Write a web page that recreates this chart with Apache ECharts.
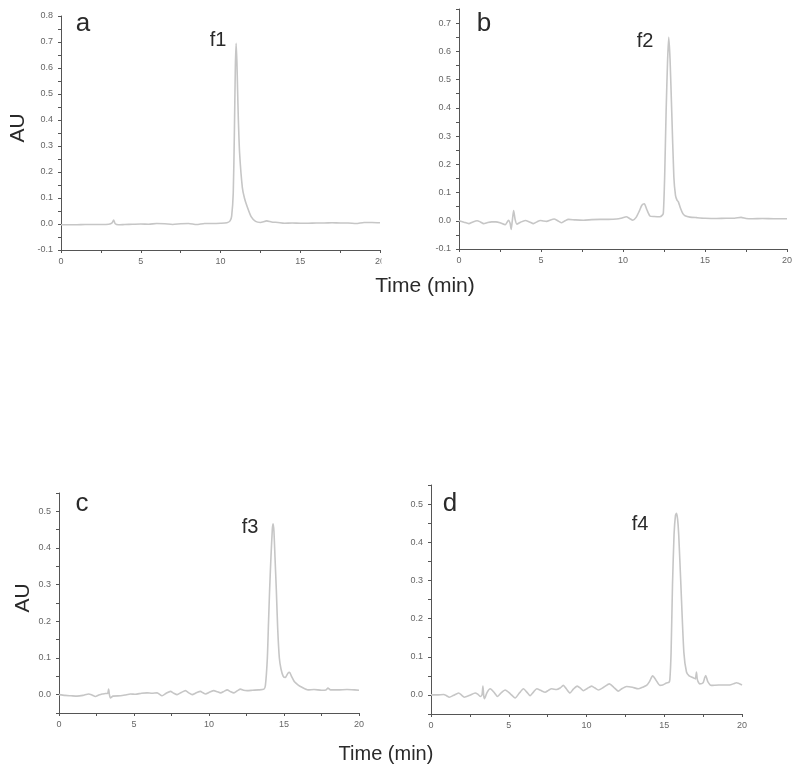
<!DOCTYPE html>
<html>
<head>
<meta charset="utf-8">
<script src="https://cdn.jsdelivr.net/npm/echarts@6/dist/echarts.min.js"></script>
<style>html,body{margin:0;padding:0;background:#fff}#c{width:800px;height:778px}</style>
</head>
<body>
<div id="c"></div>
<script>
// ---- data (time in min, absorbance AU) ----
const panelLetters = ['a', 'b', 'c', 'd'];
const peakNames = ['f1', 'f2', 'f3', 'f4'];
const xTitle = 'Time (min)';
const yTitle = 'AU';
const xMin = 0, xMax = 20;
const yMins = [-0.1, -0.1, -0.05, -0.05];
const yMaxs = [0.8, 0.75, 0.55, 0.55];

const traceA = [[0,-0.003],[0.5,-0.003],[1,-0.003],[1.5,-0.002],[2,-0.002],[2.5,-0.002],[3,-0.001],[3.2,0.004],[3.3,0.015],[3.4,0.001],[3.6,-0.003],[4,-0.002],[4.5,-0.001],[5,0],[5.5,-0.001],[6,0.002],[6.5,0.001],[7,-0.002],[7.5,0.001],[8,0.002],[8.5,-0.002],[9,0.002],[9.5,0.002],[10,0.003],[10.4,0.005],[10.6,0.012],[10.7,0.03],[10.8,0.12],[10.87,0.35],[10.93,0.6],[10.98,0.695],[11.03,0.62],[11.07,0.52],[11.12,0.4],[11.2,0.27],[11.37,0.14],[11.5,0.1],[11.67,0.067],[11.92,0.028],[12.2,0.01],[12.5,0.006],[12.9,0.012],[13.2,0.008],[13.6,0.006],[14,0.003],[14.5,0.004],[15,0.003],[15.5,0.003],[16,0.004],[16.5,0.004],[17,0.005],[17.5,0.004],[18,0.004],[18.5,0.002],[19,0.006],[19.5,0.006],[20,0.005]];

const traceB = [[0,0],[0.3,-0.005],[0.6,-0.01],[0.85,-0.004],[1.1,0],[1.3,-0.004],[1.5,-0.01],[1.75,-0.006],[2.0,-0.004],[2.25,-0.004],[2.5,-0.007],[2.82,-0.014],[3.02,0.002],[3.12,-0.01],[3.18,-0.031],[3.25,0.0],[3.33,0.036],[3.42,0.005],[3.53,-0.012],[3.75,-0.005],[4.04,0.001],[4.3,-0.004],[4.54,-0.01],[4.75,-0.004],[4.95,0.001],[5.15,-0.001],[5.35,-0.002],[5.58,0.003],[5.8,0.006],[6.02,0.0],[6.27,-0.007],[6.47,0.0],[6.67,0.005],[7.1,0.003],[7.59,0.002],[8.1,0.004],[8.6,0.005],[9.1,0.005],[9.6,0.006],[9.95,0.01],[10.2,0.014],[10.4,0.008],[10.6,0.002],[10.8,0.012],[11.0,0.035],[11.15,0.055],[11.3,0.06],[11.45,0.04],[11.64,0.017],[11.9,0.015],[12.25,0.014],[12.4,0.02],[12.46,0.027],[12.54,0.156],[12.63,0.39],[12.72,0.57],[12.79,0.65],[12.87,0.57],[12.97,0.39],[13.1,0.156],[13.2,0.09],[13.3,0.072],[13.37,0.068],[13.5,0.045],[13.65,0.025],[13.78,0.018],[14.08,0.013],[14.5,0.011],[15.0,0.009],[15.7,0.008],[16.3,0.009],[16.8,0.009],[17.2,0.012],[17.5,0.008],[17.9,0.007],[18.5,0.008],[19.2,0.007],[20,0.007]];

const traceC = [[0,0],[0.4,-0.002],[0.8,-0.003],[1.2,-0.004],[1.6,-0.002],[1.98,0.002],[2.2,-0.001],[2.43,-0.005],[2.65,-0.001],[2.87,0.002],[3.1,0.003],[3.25,0.004],[3.31,0.015],[3.36,0.0],[3.43,-0.009],[3.6,-0.004],[4.1,-0.003],[4.4,-0.001],[4.76,0.002],[5.1,0.001],[5.5,0.004],[5.87,0.005],[6.2,0.004],[6.54,0.005],[6.87,-0.003],[7.15,0.004],[7.43,0.009],[7.65,0.004],[7.87,0.0],[8.15,0.006],[8.43,0.011],[8.65,0.005],[8.88,0.0],[9.15,0.005],[9.43,0.009],[9.6,0.005],[9.77,0.002],[10.05,0.007],[10.32,0.011],[10.55,0.008],[10.77,0.005],[11.0,0.009],[11.21,0.013],[11.45,0.008],[11.66,0.005],[11.9,0.011],[12.1,0.015],[12.3,0.012],[12.55,0.011],[12.9,0.012],[13.3,0.013],[13.66,0.015],[13.76,0.025],[13.89,0.10],[13.97,0.2],[14.04,0.284],[14.13,0.375],[14.22,0.45],[14.27,0.466],[14.33,0.445],[14.4,0.375],[14.49,0.284],[14.58,0.18],[14.69,0.10],[14.8,0.07],[14.95,0.05],[15.09,0.047],[15.25,0.058],[15.37,0.061],[15.5,0.05],[15.7,0.035],[15.95,0.026],[16.2,0.02],[16.6,0.013],[17.0,0.014],[17.5,0.012],[17.8,0.013],[17.93,0.018],[18.1,0.013],[18.6,0.013],[19.2,0.014],[19.7,0.013],[20,0.012]];

const traceD = [[0,0],[0.4,0.0],[0.81,0.001],[1.0,-0.002],[1.18,-0.006],[1.45,-0.001],[1.78,0.005],[1.95,0.0],[2.14,-0.006],[2.5,-0.001],[2.84,0.005],[3.0,0.002],[3.17,-0.004],[3.28,0.0],[3.34,0.023],[3.39,-0.002],[3.44,-0.01],[3.6,0.006],[3.81,0.016],[4.05,0.007],[4.28,-0.004],[4.5,0.005],[4.77,0.013],[5.1,0.003],[5.41,-0.008],[5.7,0.006],[5.95,0.016],[6.15,0.008],[6.37,-0.002],[6.6,0.008],[6.8,0.016],[7.05,0.012],[7.34,0.007],[7.55,0.012],[7.76,0.016],[8.08,0.014],[8.3,0.018],[8.51,0.025],[8.7,0.016],[8.94,0.005],[9.15,0.015],[9.4,0.023],[9.6,0.018],[9.8,0.011],[10.05,0.017],[10.33,0.023],[10.55,0.018],[10.76,0.013],[11.1,0.02],[11.47,0.029],[11.75,0.02],[12.04,0.01],[12.3,0.017],[12.58,0.022],[12.95,0.02],[13.33,0.016],[13.6,0.02],[13.86,0.025],[14.05,0.035],[14.25,0.05],[14.45,0.04],[14.72,0.025],[14.9,0.026],[15.14,0.031],[15.3,0.033],[15.36,0.04],[15.44,0.112],[15.53,0.288],[15.63,0.42],[15.72,0.47],[15.79,0.476],[15.86,0.46],[15.93,0.42],[16.07,0.288],[16.26,0.112],[16.43,0.06],[16.6,0.05],[16.86,0.045],[17.0,0.042],[17.07,0.06],[17.13,0.04],[17.28,0.029],[17.5,0.032],[17.6,0.045],[17.67,0.051],[17.8,0.035],[18.03,0.025],[18.5,0.026],[19.2,0.026],[19.5,0.03],[19.64,0.032],[20,0.026]];

const traces = [traceA, traceB, traceC, traceD];

// ---- layout ----
const grids = [
  {left: 61, top: 16, width: 319, height: 234},
  {left: 459, top: 9, width: 328, height: 240},
  {left: 59, top: 493, width: 300, height: 220},
  {left: 431, top: 485, width: 311, height: 229}
];
const FONT = '"Liberation Sans", Arial, Helvetica, sans-serif';
const isTenth = v => Math.abs(v * 10 - Math.round(v * 10)) < 1e-6;

const xAxes = grids.map((g, i) => ({
  type: 'value', gridIndex: i, min: xMin, max: xMax, interval: 2.5,
  axisLine: {show: true, onZero: false, lineStyle: {color: '#555', width: 1}},
  axisTick: {show: true, inside: false, length: 3, lineStyle: {color: '#555'}},
  axisLabel: {show: true, margin: 7, fontSize: 9, color: '#666', fontFamily: FONT,
    formatter: v => (Math.abs(v % 5) < 1e-6 ? String(Math.round(v)) : '')},
  splitLine: {show: false}
}));
const yAxes = grids.map((g, i) => ({
  type: 'value', gridIndex: i, min: yMins[i], max: yMaxs[i], interval: 0.05,
  axisLine: {show: true, onZero: false, lineStyle: {color: '#555', width: 1}},
  axisTick: {show: true, inside: false, length: 3, lineStyle: {color: '#555'}},
  axisLabel: {show: true, margin: 8, fontSize: 9, color: '#666', fontFamily: FONT,
    formatter: v => (isTenth(v) ? (Math.round(v * 10) / 10).toFixed(1) : '')},
  splitLine: {show: false}
}));
const series = traces.map((t, i) => ({
  type: 'line', xAxisIndex: i, yAxisIndex: i, data: t,
  showSymbol: false, smooth: 0.2, clip: true,
  lineStyle: {color: '#c6c6c6', width: 1.6}
}));

function txt(text, x, y, size, rot) {
  return {type: 'text', x: x, y: y, rotation: rot || 0, z: 50,
    style: {text: text, fontSize: size, fontFamily: FONT, fill: '#2a2a2a',
      align: 'center', verticalAlign: 'middle', textAlign: 'center', textVerticalAlign: 'middle'}};
}
const graphics = [
  txt(panelLetters[0], 83, 24, 26), txt(panelLetters[1], 484, 24, 26),
  txt(panelLetters[2], 82, 504, 26), txt(panelLetters[3], 450, 504, 26),
  txt(peakNames[0], 218, 40, 20), txt(peakNames[1], 645, 41, 20),
  txt(peakNames[2], 250, 527, 20), txt(peakNames[3], 640, 524, 20),
  txt(yTitle, 18, 128, 21, Math.PI / 2), txt(yTitle, 23, 598, 21, Math.PI / 2),
  txt(xTitle, 425, 286, 21), txt(xTitle, 386, 754, 20),
  {type: 'rect', z: 100, shape: {x: 381.5, y: 254, width: 14, height: 16}, style: {fill: '#fff'}}
];

const chart = echarts.init(document.getElementById('c'), null, {renderer: 'canvas'});
chart.setOption({
  animation: false,
  backgroundColor: '#fff',
  grid: grids.map(g => Object.assign({containLabel: false}, g)),
  xAxis: xAxes,
  yAxis: yAxes,
  series: series,
  graphic: graphics
});
</script>
</body>
</html>
